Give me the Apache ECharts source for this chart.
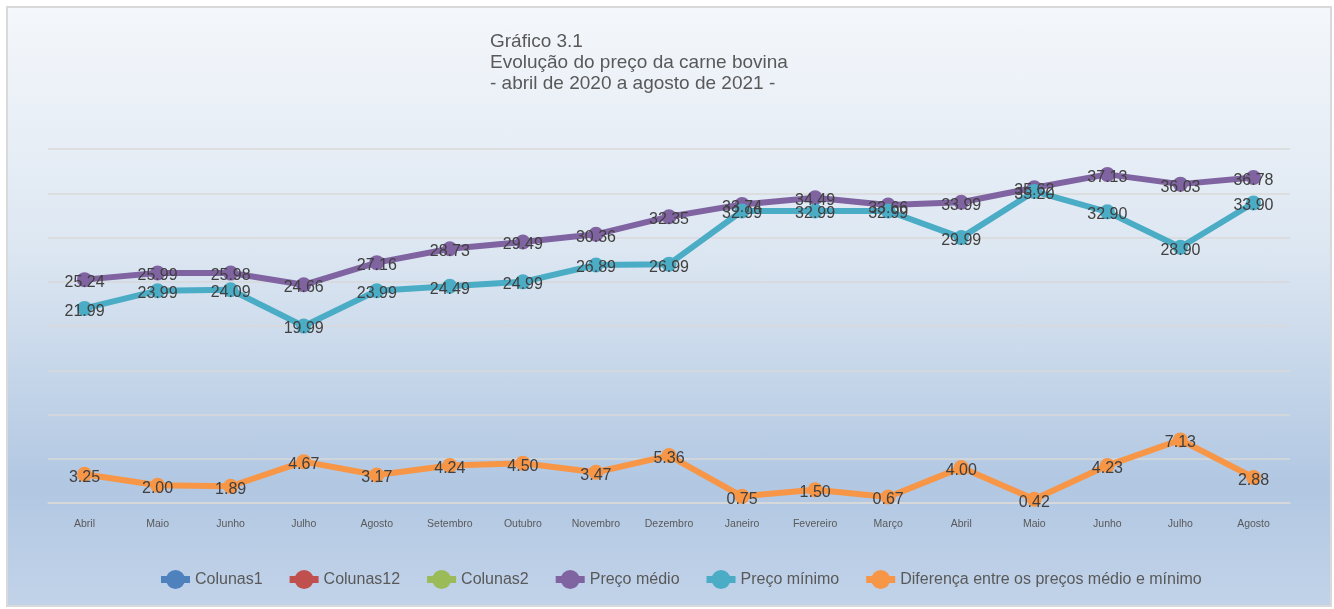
<!DOCTYPE html>
<html>
<head>
<meta charset="utf-8">
<script src="https://cdn.jsdelivr.net/npm/echarts@6/dist/echarts.min.js"></script>
<style>
  html, body { margin: 0; padding: 0; background: #fff; }
  #chart {
    position: absolute; left: 6px; top: 6px; width: 1322px; height: 597px;
    border: 2px solid #d9d9d9;
    background: linear-gradient(to bottom, #f4f7fb 0%, #dde7f2 40%, #b1c7e2 80%, #c2d3e9 100%);
  }
</style>
</head>
<body>
<div id="chart"></div>
<script>
// meses de abril/2020 a agosto/2021
const months = ['Abril', 'Maio', 'Junho', 'Julho', 'Agosto', 'Setembro', 'Outubro', 'Novembro',
    'Dezembro', 'Janeiro', 'Fevereiro', 'Março', 'Abril', 'Maio', 'Junho', 'Julho', 'Agosto'];
const precoMedio = [25.24, 25.99, 25.98, 24.66, 27.16, 28.73, 29.49, 30.36, 32.35,
    33.74, 34.49, 33.66, 33.99, 35.62, 37.13, 36.03, 36.78];
const precoMinimo = [21.99, 23.99, 24.09, 19.99, 23.99, 24.49, 24.99, 26.89, 26.99,
    32.99, 32.99, 32.99, 29.99, 35.20, 32.90, 28.90, 33.90];
const diferenca = [3.25, 2.00, 1.89, 4.67, 3.17, 4.24, 4.50, 3.47, 5.36,
    0.75, 1.50, 0.67, 4.00, 0.42, 4.23, 7.13, 2.88];

const chart = echarts.init(document.getElementById('chart'), null, {renderer: 'canvas'});

// barra com bolinha no meio, como no Excel
const legendIcon = 'path://M0,6H29V13H0Z M14.5,0A9.5,9.5 0 1 1 14.5,19A9.5,9.5 0 1 1 14.5,0Z';

const lineSeries = (name, color, data) => ({
    name: name,
    type: 'line',
    data: data,
    symbol: 'circle',
    symbolSize: 15,
    lineStyle: {width: 6, color: color},
    itemStyle: {color: color},
    label: {
        show: data.length > 0,
        position: 'inside',
        offset: [0, 3],
        fontFamily: 'Liberation Sans, Arial',
        fontSize: 16,
        color: '#404040',
        formatter: p => p.value.toFixed(2)
    },
    emphasis: {disabled: true}
});

chart.setOption({
    animation: false,
    backgroundColor: 'transparent',
    title: {
        text: 'Gráfico 3.1\nEvolução do preço da carne bovina\n- abril de 2020 a agosto de 2021 -',
        left: 477, top: 18,
        textStyle: {fontFamily: 'Liberation Sans, Arial', fontSize: 19, fontWeight: 'normal',
            color: '#595959', lineHeight: 21}
    },
    grid: {left: 40, right: 40, top: 141, bottom: 102},
    legend: {
        top: 557,
        left: 148,
        icon: legendIcon,
        itemWidth: 29,
        itemHeight: 19,
        itemGap: 27,
        textStyle: {fontFamily: 'Liberation Sans, Arial', fontSize: 16, color: '#595959'},
        data: ['Colunas1', 'Colunas12', 'Colunas2', 'Preço médio', 'Preço mínimo',
            'Diferença entre os preços médio e mínimo']
    },
    xAxis: {
        type: 'category',
        data: months,
        boundaryGap: true,
        axisLine: {lineStyle: {color: '#d9d9d9', width: 1.5}},
        axisTick: {show: false},
        axisLabel: {fontFamily: 'Liberation Sans, Arial', fontSize: 10.5, color: '#595959', margin: 16}
    },
    yAxis: {
        type: 'value',
        min: 0, max: 40, interval: 5,
        axisLabel: {show: false},
        axisLine: {show: false},
        axisTick: {show: false},
        splitLine: {lineStyle: {color: '#d9d9d9', width: 1.5}}
    },
    series: [
        lineSeries('Colunas1', '#4f81bd', []),
        lineSeries('Colunas12', '#c0504d', []),
        lineSeries('Colunas2', '#9bbb59', []),
        lineSeries('Preço médio', '#8064a2', precoMedio),
        lineSeries('Preço mínimo', '#4bacc6', precoMinimo),
        lineSeries('Diferença entre os preços médio e mínimo', '#f79646', diferenca)
    ]
});
</script>
</body>
</html>
